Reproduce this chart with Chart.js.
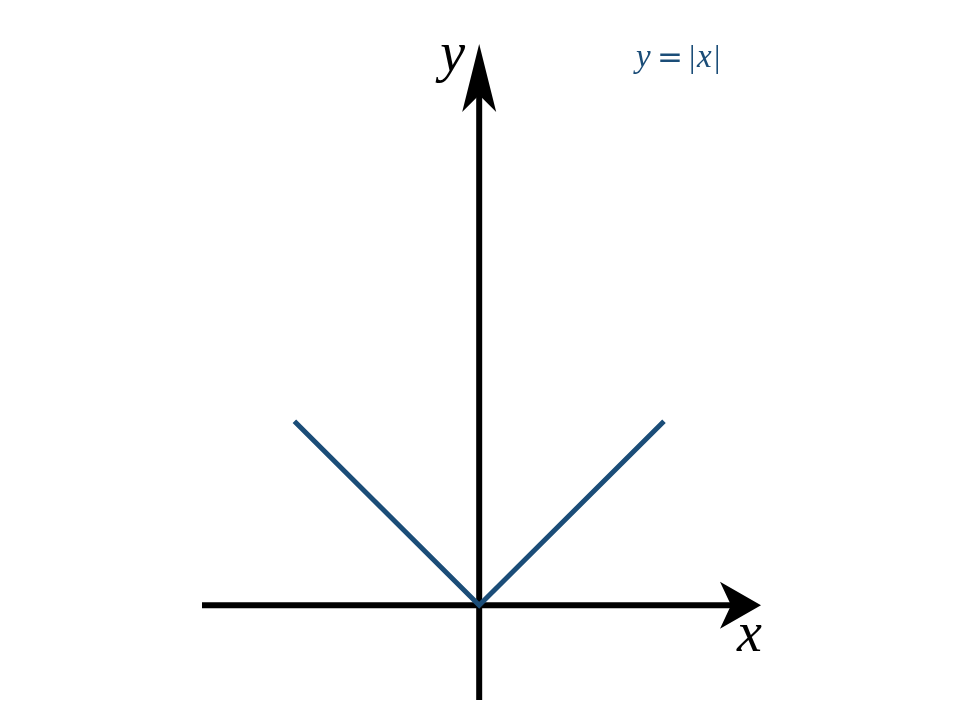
<!DOCTYPE html>
<html>
<head>
<meta charset="utf-8">
<script src="https://cdn.jsdelivr.net/npm/chart.js@4/dist/chart.umd.min.js"></script>
<style>
  html, body { margin: 0; padding: 0; background: #fff; }
  canvas { display: block; }
</style>
</head>
<body>
<canvas id="abs-chart" width="960" height="720"></canvas>
<script>
// y = |x|
const xs = [-2, 0, 2];
const ys = [2, 0, 2];

// axis extents (data units)
const xAxisRange = [-3, 3.05];
const yAxisRange = [-1.03, 6.1];

const lineColor = '#1b4d78';

const axisArrows = {
  id: 'axisArrows',
  afterDatasetsDraw(chart) {
    const c = chart.ctx;
    const sx = chart.scales.x, sy = chart.scales.y;
    const ox = sx.getPixelForValue(0), oy = sy.getPixelForValue(0);
    const xt = sx.getPixelForValue(xAxisRange[1]);
    const yt = sy.getPixelForValue(yAxisRange[1]);
    c.save();
    c.fillStyle = '#000';
    // x arrow
    c.beginPath();
    c.moveTo(xt, oy);
    c.lineTo(xt - 41, oy - 23.5);
    c.lineTo(xt - 30, oy);
    c.lineTo(xt - 41, oy + 23.5);
    c.closePath();
    c.fill();
    // y arrow
    c.beginPath();
    c.moveTo(ox, yt);
    c.lineTo(ox - 17, yt + 68);
    c.lineTo(ox, yt + 51);
    c.lineTo(ox + 17, yt + 68);
    c.closePath();
    c.fill();

    // axis labels
    c.font = 'italic 56px "Liberation Serif"';
    c.textAlign = 'right';
    c.textBaseline = 'alphabetic';
    c.fillText('y', ox - 14, yt + 27);
    c.textAlign = 'left';
    c.fillText('x', xt - 24, oy + 46);

    // formula y = |x|
    c.fillStyle = lineColor;
    const x0 = 636, base = 67;
    c.font = 'italic 33px "Liberation Serif"';
    c.fillText('y', x0, base);
    c.fillText('x', x0 + 61, base);
    c.font = '32px "Liberation Serif"';
    c.fillText('|', x0 + 53, base);
    c.fillText('|', x0 + 78, base);
    c.font = '31px "DejaVu Sans"';
    c.fillText('=', x0 + 21, base);
    c.restore();
  }
};

const ctx = document.getElementById('abs-chart').getContext('2d');

const data = {
  datasets: [
    {
      label: 'y = |x|',
      data: xs.map((x, i) => ({ x: x, y: ys[i] })),
      borderColor: lineColor,
      borderWidth: 5,
      pointRadius: 0,
      showLine: true,
      borderJoinStyle: 'miter'
    },
    {
      label: 'x axis',
      data: [{ x: xAxisRange[0], y: 0 }, { x: xAxisRange[1] - 30 / 92.4, y: 0 }],
      borderColor: '#000',
      borderWidth: 6,
      pointRadius: 0,
      showLine: true,
      borderCapStyle: 'butt'
    },
    {
      label: 'y axis',
      data: [{ x: 0, y: yAxisRange[0] }, { x: 0, y: yAxisRange[1] - 50 / 92 }],
      borderColor: '#000',
      borderWidth: 6,
      pointRadius: 0,
      showLine: true,
      borderCapStyle: 'butt'
    }
  ]
};

const config = {
  type: 'scatter',
  data: data,
  options: {
    responsive: false,
    animation: false,
    layout: { padding: { left: 202, right: 199, top: 44, bottom: 20 } },
    plugins: {
      legend: { display: false },
      tooltip: { enabled: false }
    },
    scales: {
      x: { display: false, min: xAxisRange[0], max: xAxisRange[1] },
      y: { display: false, min: yAxisRange[0], max: yAxisRange[1] }
    }
  },
  plugins: [axisArrows]
};

const absChart = new Chart(ctx, config);
</script>
</body>
</html>
